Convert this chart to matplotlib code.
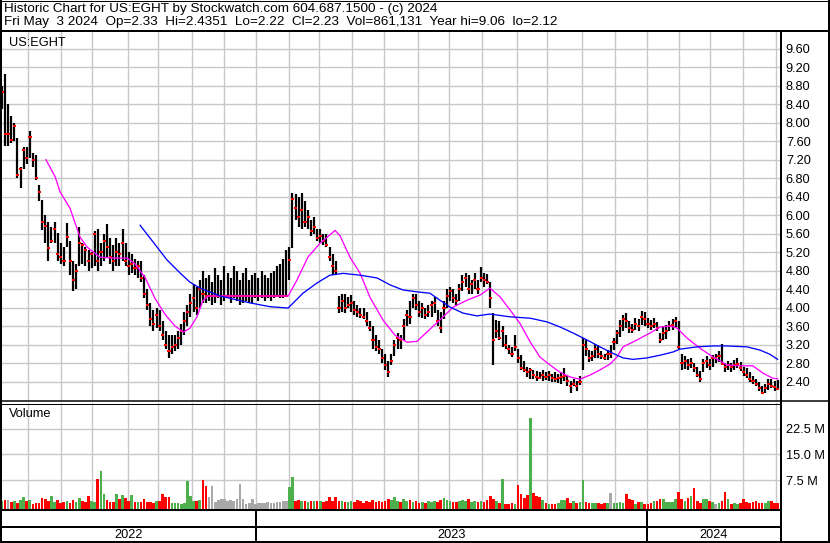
import numpy as np
import matplotlib.pyplot as plt
from matplotlib.lines import Line2D

plt.rcParams['font.family'] = ['Liberation Sans', 'DejaVu Sans']

# ---- data (one bar = two trading days) ----
lows = [8.30, 7.50, 7.50, 7.55, 7.60, 6.80, 6.58, 7.00, 7.10, 7.23,
        7.05, 6.76, 6.30, 5.67, 5.40, 5.00, 5.40, 5.40, 5.00, 4.95,
        4.90, 5.30, 4.70, 4.35, 4.40, 4.90, 4.95, 4.90, 4.80, 4.85,
        4.90, 4.80, 4.90, 5.00, 5.10, 4.95, 4.80, 4.90, 4.90, 5.00,
        4.90, 4.70, 4.75, 4.70, 4.65, 4.55, 4.20, 3.95, 3.60, 3.50,
        3.55, 3.50, 3.30, 3.10, 2.90, 3.00, 3.05, 3.10, 3.20, 3.40,
        3.60, 3.80, 3.90, 3.85, 4.00, 4.10, 4.10, 4.15, 4.05, 4.10,
        4.20, 4.05, 4.15, 4.20, 4.10, 4.20, 4.15, 4.05, 4.10, 4.15,
        4.10, 4.10, 4.20, 4.15, 4.20, 4.15, 4.20, 4.15, 4.20, 4.25,
        4.20, 4.20, 4.25, 4.60, 5.28, 5.90, 5.75, 5.70, 5.75, 5.70,
        5.55, 5.60, 5.45, 5.40, 5.35, 5.30, 5.00, 4.70, 4.70, 3.88,
        3.90, 3.88, 4.00, 3.90, 3.85, 3.80, 3.78, 3.75, 3.60, 3.50,
        3.10, 3.05, 3.00, 2.80, 2.65, 2.50, 2.75, 2.95, 3.10, 3.10,
        3.30, 3.60, 3.65, 4.00, 3.95, 3.80, 3.78, 3.75, 3.80, 3.80,
        3.88, 3.60, 3.45, 3.75, 4.00, 4.15, 4.10, 4.05, 4.15, 4.35,
        4.45, 4.30, 4.30, 4.40, 4.30, 4.55, 4.45, 4.50, 4.00, 2.76,
        3.35, 3.30, 3.15, 3.10, 3.00, 2.93, 3.05, 2.80, 2.65, 2.60,
        2.50, 2.45, 2.45, 2.42, 2.45, 2.42, 2.44, 2.42, 2.40, 2.38,
        2.37, 2.35, 2.42, 2.30, 2.15, 2.30, 2.20, 2.32, 2.65, 2.95,
        2.82, 2.85, 2.90, 2.92, 2.88, 2.87, 2.87, 2.90, 3.08, 3.22,
        3.37, 3.50, 3.55, 3.45, 3.45, 3.52, 3.50, 3.62, 3.60, 3.55,
        3.52, 3.55, 3.50, 3.23, 3.30, 3.33, 3.50, 3.52, 3.58, 3.10,
        2.65, 2.68, 2.65, 2.70, 2.60, 2.50, 2.40, 2.60, 2.70, 2.65,
        2.72, 2.80, 2.82, 2.75, 2.60, 2.65, 2.60, 2.66, 2.70, 2.62,
        2.52, 2.48, 2.40, 2.35, 2.30, 2.20, 2.12, 2.15, 2.22, 2.25,
        2.20, 2.22]
highs = [8.80, 9.05, 8.40, 8.15, 8.00, 7.66, 7.05, 7.48, 7.48, 7.82,
         7.35, 7.30, 6.65, 6.32, 6.00, 5.85, 5.75, 5.85, 5.62, 5.40,
         5.30, 5.83, 5.45, 5.00, 4.95, 5.75, 5.40, 5.30, 5.25, 5.20,
         5.65, 5.70, 5.40, 5.60, 5.80, 5.50, 5.35, 5.50, 5.40, 5.70,
         5.40, 5.20, 5.15, 5.05, 5.00, 5.00, 4.70, 4.40, 4.10, 3.95,
         4.00, 3.95, 3.70, 3.50, 3.40, 3.40, 3.40, 3.50, 3.65, 3.90,
         4.05, 4.30, 4.50, 4.45, 4.60, 4.80, 4.65, 4.70, 4.55, 4.85,
         4.70, 4.60, 4.90, 4.75, 4.65, 4.90, 4.80, 4.60, 4.75, 4.85,
         4.60, 4.70, 4.75, 4.65, 4.80, 4.70, 4.65, 4.75, 4.80, 4.90,
         4.95, 5.05, 5.25, 5.30, 6.47, 6.45, 6.40, 6.47, 6.30, 6.10,
         5.90, 5.95, 5.70, 5.70, 5.60, 5.60, 5.30, 5.15, 5.00, 4.25,
         4.30, 4.30, 4.22, 4.27, 4.15, 4.05, 4.00, 3.98, 3.90, 3.70,
         3.60, 3.40, 3.30, 3.10, 3.00, 2.85, 3.00, 3.30, 3.45, 3.40,
         3.75, 3.95, 4.15, 4.30, 4.30, 4.15, 4.10, 4.00, 4.05, 4.15,
         4.23, 3.95, 3.90, 4.15, 4.40, 4.45, 4.40, 4.30, 4.50, 4.70,
         4.75, 4.70, 4.60, 4.75, 4.60, 4.88, 4.75, 4.72, 4.55, 3.88,
         3.73, 3.70, 3.60, 3.40, 3.20, 3.15, 3.40, 3.10, 2.98, 2.85,
         2.72, 2.70, 2.65, 2.62, 2.60, 2.65, 2.60, 2.63, 2.57, 2.60,
         2.57, 2.60, 2.70, 2.52, 2.42, 2.45, 2.42, 2.52, 3.34, 3.30,
         3.08, 3.05, 3.22, 3.20, 3.05, 3.00, 3.08, 3.20, 3.35, 3.52,
         3.73, 3.83, 3.88, 3.70, 3.65, 3.78, 3.75, 3.92, 3.90, 3.78,
         3.73, 3.77, 3.68, 3.45, 3.60, 3.62, 3.70, 3.75, 3.80, 3.70,
         3.00, 2.95, 2.88, 2.90, 2.80, 2.72, 2.62, 2.88, 2.95, 2.88,
         2.97, 3.00, 3.05, 3.22, 2.80, 2.85, 2.80, 2.86, 2.90, 2.82,
         2.72, 2.70, 2.60, 2.52, 2.45, 2.38, 2.30, 2.35, 2.45, 2.45,
         2.42, 2.44]
closes = [8.67, 7.75, 7.75, 7.62, 7.93, 6.86, 7.00, 7.40, 7.23, 7.69,
          7.20, 6.80, 6.50, 5.86, 5.76, 5.28, 5.44, 5.70, 5.15, 5.10,
          5.00, 5.53, 5.00, 4.60, 4.80, 5.40, 5.35, 5.25, 5.00, 5.15,
          5.60, 5.00, 5.20, 5.45, 5.30, 5.10, 5.00, 5.20, 5.15, 5.40,
          5.00, 4.90, 4.95, 4.85, 4.90, 4.65, 4.30, 4.05, 3.75, 3.65,
          3.85, 3.60, 3.40, 3.20, 3.05, 3.15, 3.20, 3.35, 3.50, 3.70,
          3.90, 4.10, 4.20, 4.00, 4.40, 4.30, 4.25, 4.25, 4.25, 4.25,
          4.25, 4.25, 4.25, 4.25, 4.25, 4.25, 4.25, 4.25, 4.25, 4.25,
          4.25, 4.25, 4.25, 4.25, 4.25, 4.25, 4.25, 4.25, 4.25, 4.25,
          4.25, 4.25, 4.25, 5.03, 6.35, 6.15, 5.95, 6.10, 5.85, 5.95,
          5.65, 5.75, 5.50, 5.55, 5.45, 5.35, 5.10, 4.90, 4.80, 4.00,
          4.15, 4.00, 4.05, 4.10, 3.95, 3.90, 3.85, 3.80, 3.70, 3.55,
          3.30, 3.15, 3.10, 2.90, 2.75, 2.60, 2.85, 3.20, 3.35, 3.30,
          3.60, 3.85, 3.80, 4.20, 4.05, 3.90, 4.00, 3.85, 3.90, 4.05,
          4.10, 3.70, 3.55, 4.00, 4.25, 4.35, 4.20, 4.15, 4.40, 4.55,
          4.65, 4.40, 4.50, 4.60, 4.40, 4.64, 4.60, 4.55, 4.20, 3.30,
          3.50, 3.35, 3.50, 3.20, 3.10, 3.00, 3.15, 2.90, 2.70, 2.65,
          2.60, 2.65, 2.55, 2.50, 2.48, 2.55, 2.50, 2.55, 2.48, 2.45,
          2.47, 2.50, 2.52, 2.42, 2.30, 2.35, 2.30, 2.40, 3.20, 3.10,
          2.90, 2.95, 3.10, 3.00, 2.95, 2.90, 3.00, 3.00, 3.25, 3.45,
          3.60, 3.75, 3.70, 3.55, 3.52, 3.65, 3.60, 3.80, 3.75, 3.65,
          3.60, 3.65, 3.55, 3.30, 3.45, 3.50, 3.60, 3.62, 3.70, 3.15,
          2.80, 2.85, 2.75, 2.80, 2.70, 2.55, 2.45, 2.80, 2.85, 2.75,
          2.90, 2.90, 2.95, 2.78, 2.72, 2.75, 2.72, 2.75, 2.78, 2.70,
          2.60, 2.55, 2.45, 2.42, 2.35, 2.25, 2.15, 2.25, 2.35, 2.30,
          2.28, 2.23]
volumes = [1.4, 1.6, 1.5, 1.0, 1.3, 0.9, 1.5, 2.5, 1.2, 1.6,
           0.6, 0.8, 0.9, 2.3, 2.0, 1.3, 2.8, 1.1, 1.5, 0.9,
           1.1, 1.3, 0.8, 1.5, 1.0, 2.2, 1.4, 1.0, 2.8, 1.2,
           1.0, 7.8, 10.1, 3.5, 1.6, 1.1, 1.0, 3.3, 2.0, 3.2,
           2.3, 1.2, 3.2, 1.0, 1.1, 1.0, 2.0, 1.0, 1.1, 0.9,
           1.2, 1.4, 3.3, 2.5, 2.4, 0.8, 0.7, 0.8, 0.6, 0.9,
           7.2, 2.8, 1.4, 1.3, 1.5, 7.5, 5.8, 2.5, 5.8, 1.0,
           1.5, 2.0, 1.8, 1.2, 1.5, 1.3, 2.0, 6.3, 1.8, 0.6,
           0.7, 2.0, 0.6, 0.8, 0.9, 0.7, 1.0, 0.8, 0.9, 1.0,
           1.0, 1.2, 1.4, 5.5, 8.4, 1.4, 1.5, 1.2, 1.2, 1.0,
           1.3, 1.4, 1.4, 1.2, 1.0, 1.3, 2.6, 1.2, 2.4, 1.2,
           1.2, 1.0, 1.1, 1.2, 1.0, 1.6, 1.2, 0.9, 1.3, 1.0,
           1.5, 1.1, 1.4, 1.0, 1.2, 2.0, 1.6, 2.5, 1.3, 1.1,
           1.8, 1.2, 1.5, 1.0, 1.3, 0.9, 1.1, 0.8, 1.2, 1.0,
           1.4, 1.1, 1.6, 2.3, 1.6, 1.2, 1.0, 1.1, 1.3, 1.7,
           1.2, 2.0, 1.0, 1.2, 1.0, 1.4, 1.1, 1.5, 2.8, 1.8,
           1.2, 0.8, 7.8, 0.6, 0.5, 0.7, 0.6, 6.0, 3.4, 2.3,
           3.0, 25.7, 3.8, 2.8, 2.6, 1.5, 0.9, 0.5, 0.5, 0.5,
           0.9, 1.6, 1.5, 2.2, 0.9, 1.2, 0.9, 1.0, 7.5, 1.0,
           0.8, 0.9, 0.8, 0.9, 0.6, 0.8, 0.7, 3.7, 0.9, 0.8,
           1.0, 0.9, 3.4, 1.8, 1.5, 0.6, 1.0, 1.0, 0.6, 0.6,
           0.7, 1.3, 1.3, 1.8, 1.8, 1.0, 1.0, 1.0, 1.8, 4.0,
           2.0, 1.4, 2.3, 2.8, 5.1, 1.4, 0.9, 2.0, 2.0, 1.4,
           1.0, 0.6, 0.8, 1.2, 4.0, 2.0, 0.6, 0.7, 0.6, 0.8,
           1.8, 1.0, 0.9, 1.0, 1.2, 0.9, 0.8, 0.7, 1.2, 1.2,
           0.9, 0.7]

# moving averages as drawn on the chart (bar position, price)
ma_fast_pos = [14.2, 17.2, 18.8, 22.0, 25.2, 27.5, 31.7, 35.9, 40.5, 43.0,
               46.3, 49.5, 52.8, 56.0, 58.6, 60.8, 63.1, 65.0, 66.7, 92.6,
               95.5, 99.0, 102.9, 107.8, 109.4, 112.6, 115.9, 119.1, 123.3, 127.2,
               131.1, 134.3, 137.5, 141.7, 146.0, 150.5, 154.7, 157.9, 161.2, 164.4,
               167.6, 170.9, 174.1, 177.3, 180.6, 183.8, 187.0, 190.3, 193.5, 196.8,
               199.0, 201.0, 205.5, 209.7, 213.0, 216.2, 218.4, 221.7, 225.9, 230.1,
               234.6, 238.8, 243.0, 246.3, 249.5, 251.0]
ma_fast_vals = [7.20, 6.83, 6.50, 6.15, 5.53, 5.31, 5.09, 5.07, 5.07, 4.95,
                4.65, 4.20, 3.85, 3.60, 3.47, 3.55, 3.80, 4.15, 4.25, 4.25,
                4.60, 5.09, 5.39, 5.67, 5.55, 5.09, 4.74, 4.22, 3.73, 3.40,
                3.25, 3.27, 3.47, 3.73, 4.01, 4.16, 4.27, 4.42, 4.23, 3.95,
                3.66, 3.26, 2.93, 2.76, 2.60, 2.50, 2.45, 2.54, 2.65, 2.78,
                2.93, 3.15, 3.30, 3.45, 3.58, 3.60, 3.56, 3.34, 3.12, 2.93,
                2.76, 2.74, 2.74, 2.58, 2.47, 2.46]
ma_slow_pos = [44.7, 53.4, 57.6, 60.8, 64.1, 70.6, 80.3, 86.7, 92.6, 97.4,
               101.9, 106.1, 110.4, 115.9, 121.4, 125.6, 129.8, 134.3, 138.5, 141.7,
               145.0, 149.2, 153.7, 157.9, 164.4, 170.9, 176.4, 180.6, 184.8, 189.3,
               193.5, 197.7, 201.0, 204.2, 208.7, 213.0, 217.2, 219.4, 224.9, 230.1,
               234.6, 241.1, 245.3, 248.5, 251.0]
ma_slow_vals = [5.78, 5.03, 4.75, 4.55, 4.42, 4.25, 4.10, 4.02, 3.99, 4.31,
                4.53, 4.70, 4.74, 4.70, 4.64, 4.49, 4.38, 4.34, 4.31, 4.16,
                4.01, 3.88, 3.82, 3.86, 3.80, 3.77, 3.69, 3.58, 3.45, 3.30,
                3.15, 3.01, 2.91, 2.88, 2.91, 2.97, 3.04, 3.10, 3.15, 3.17,
                3.17, 3.15, 3.08, 2.99, 2.88]

month_starts = [8.5, 19.1, 29.2, 40.7, 50.6, 61.4, 71.8, 82.2, 93.0, 102.7,
                113.2, 123.7, 134.7, 144.8, 155.4, 166.6, 176.3, 187.6, 198.4, 208.6,
                219.1, 229.1, 239.7, 250.5]
year_starts = [82.2, 208.6]
year_labels = ['2022', '2023', '2024']

price_ticks = [2.40, 2.80, 3.20, 3.60, 4.00, 4.40, 4.80, 5.20, 5.60, 6.00,
               6.40, 6.80, 7.20, 7.60, 8.00, 8.40, 8.80, 9.20, 9.60]
vol_ticks = [7.5, 15.0, 22.5]
vol_labels = ['7.5 M', '15.0 M', '22.5 M']

title1 = 'Historic Chart for US:EGHT by Stockwatch.com 604.687.1500 - (c) 2024'
title2 = ('Fri May  3 2024  Op=2.33  Hi=2.4351  Lo=2.22  Cl=2.23  '
          'Vol=861,131  Year hi=9.06  lo=2.12')

# ---- layout in pixels ----
W, H = 830, 543
FS = 9.2
FS_HEAD = 9.7
GRID = '#c8c8c8'
PX = 0.72  # one pixel in points


def fx(x):
    return x / W


def fy(y):
    return 1 - y / H


fig = plt.figure(figsize=(W / 100, H / 100), dpi=100)

ax = fig.add_axes([fx(2), fy(400.5), 779 / W, 368.5 / H])
axv = fig.add_axes([fx(2), fy(509.5), 779 / W, 106.5 / H])
axy = fig.add_axes([fx(2), fy(541.5), 779 / W, 32 / H])

x = np.arange(len(closes))
lows = np.array(lows)
highs = np.array(highs)
closes = np.array(closes)
volumes = np.array(volumes)
xlim = (0, 252.1)

# price bars
ax.vlines(x, lows, highs, color='black', lw=2.2 * PX, zorder=3)
ax.hlines(closes, x - 0.45, x + 0.55, color='red', lw=2 * PX, zorder=4)
ax.plot(ma_fast_pos, ma_fast_vals, color='#ff00ff', lw=1.3 * PX, zorder=5)
ax.plot(ma_slow_pos, ma_slow_vals, color='#0000ff', lw=1.3 * PX, zorder=5)
ax.set_xlim(*xlim)
ax.set_ylim(1.99, 9.96)
ax.set_yticks(price_ticks)
ax.set_yticklabels(['%.2f' % t for t in price_ticks])
ax.set_xticks(month_starts)

# volume bars, coloured by close change
diff = np.diff(closes, prepend=closes[0] - 1)
colors = np.where(diff > 0, '#4db04d', np.where(diff < 0, '#ff0000', '#a8a8a8'))
vbot = -1.15
axv.bar(x, volumes - vbot, bottom=vbot, width=0.85, color=colors, linewidth=0, zorder=3)
axv.set_xlim(*xlim)
axv.set_ylim(vbot, 30.1)
axv.set_yticks(vol_ticks)
axv.set_yticklabels(vol_labels)
axv.set_xticks(month_starts)

for a in (ax, axv):
    a.grid(True, color=GRID, lw=1.4 * PX)
    a.set_axisbelow(True)
    a.yaxis.tick_right()
    a.tick_params(axis='y', length=0, pad=3.5, labelsize=FS)
    a.tick_params(axis='x', length=0, labelbottom=False)
    for s in a.spines.values():
        s.set_visible(False)

# year strip
axy.set_xlim(*xlim)
axy.set_ylim(0, 1)
axy.axis('off')
axy.vlines(year_starts, 0, 1, color='black', lw=2 * PX)
edges = [xlim[0]] + year_starts + [xlim[1]]
for i, lab in enumerate(year_labels):
    axy.text((edges[i] + edges[i + 1]) / 2, 0.2, lab, ha='center', va='center', fontsize=FS)


# frame lines (pixel positions)
def hline(y, x0, x1, w):
    fig.add_artist(Line2D([fx(x0), fx(x1)], [fy(y), fy(y)], color='black', lw=w * PX))


def vline(xp, y0, y1, w):
    fig.add_artist(Line2D([fx(xp), fx(xp)], [fy(y0), fy(y1)], color='black', lw=w * PX))


hline(0.5, 0, W, 1)
hline(31, 0, W, 2)
hline(401, 0, W, 1.5)
hline(403.5, 0, 781, 1)
hline(509.5, 0, 781, 2)
hline(526.5, 0, 781, 2)
hline(541.5, 0, W, 2)
vline(1, 0, H, 2)
vline(829, 0, 542, 2)
vline(781, 31, 542, 2)

fig.text(fx(4), fy(9), title1, fontsize=FS_HEAD, va='center', ha='left')
fig.text(fx(4), fy(22), title2, fontsize=FS_HEAD, va='center', ha='left')
fig.text(fx(9), fy(43), 'US:EGHT', fontsize=FS, va='center', ha='left')
fig.text(fx(9), fy(414), 'Volume', fontsize=FS, va='center', ha='left')

fig.savefig('out.png', dpi=100)
